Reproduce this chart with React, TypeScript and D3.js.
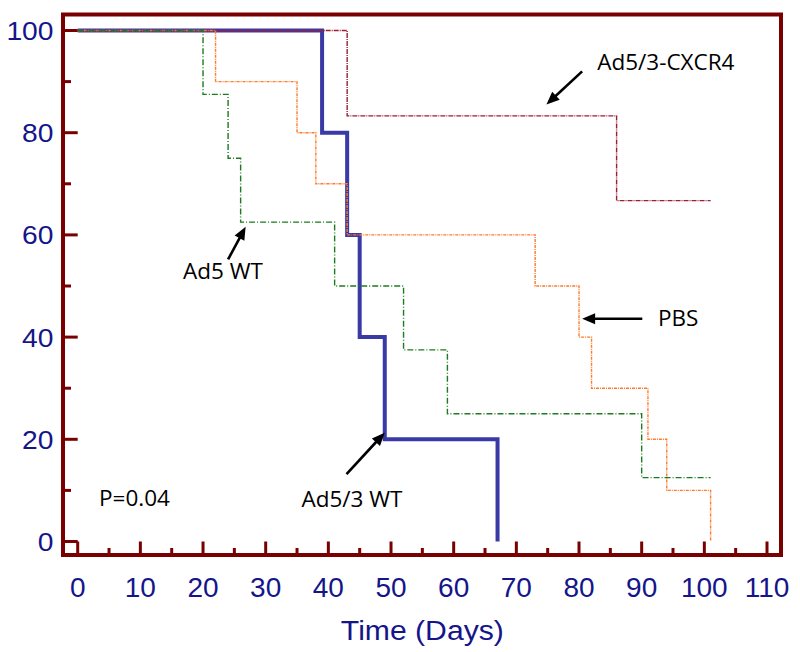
import React from "react";
import * as d3 from "d3";

// ---- Data ----
const xTicks = [0, 10, 20, 30, 40, 50, 60, 70, 80, 90, 100, 110];
const yTicks = [0, 20, 40, 60, 80, 100];

const ad53wtTimes = [0, 39, 43, 45, 49, 67];
const ad53wtSurv = [100, 80, 60, 40, 20, 0];

const cxcr4Times = [0, 43, 86, 101];
const cxcr4Surv = [100, 83.3, 66.7, 66.7];

const pbsTimes = [0, 22, 35, 38, 43, 73, 80, 82, 91, 94, 101];
const pbsSurv = [100, 90, 80, 70, 60, 50, 40, 30, 20, 10, 0];

const ad5wtTimes = [0, 20, 24, 26, 41, 52, 59, 90, 101];
const ad5wtSurv = [100, 87.5, 75, 62.5, 50, 37.5, 25, 12.5, 12.5];

const annotations = [
  { label: "Ad5/3-CXCR4", from: [80.5, 92.0], to: [74.8, 85.5], text: [82.9, 92.3] },
  { label: "PBS", from: [90.1, 43.6], to: [80.5, 43.6], text: [92.6, 42.1] },
  { label: "Ad5 WT", from: [24.0, 55.2], to: [26.8, 61.6], text: [16.8, 51.3] },
  { label: "Ad5/3 WT", from: [42.9, 13.2], to: [49.0, 21.3], text: [35.7, 6.8] },
];
const pLabel = "P=0.04";
const pPos = [3.4, 6.9];

const NAVY = "#15158a";
const FRAME = "#780000";

export default function App() {
  const x = d3.scaleLinear().domain([0, 110]).range([77.7, 767]);
  const y = d3.scaleLinear().domain([0, 100]).range([541.5, 30.5]);

  const frame = { left: 63, right: 781, top: 14.5, bottom: 555 };

  const mk = (t: number[], s: number[]) =>
    d3
      .line<number>()
      .x((_, i) => x(t[i]))
      .y((v) => y(v))
      .curve(d3.curveStepAfter)(s) as string;

  const xMinor = d3.range(5, 110, 10);
  const yMinor = d3.range(10, 100, 20);

  const arrowHead = (fx: number, fy: number, tx: number, ty: number) => {
    const ang = Math.atan2(ty - fy, tx - fx);
    const L = 13, W = 5.5;
    const bx = tx - L * Math.cos(ang), by = ty - L * Math.sin(ang);
    const px = -Math.sin(ang) * W, py = Math.cos(ang) * W;
    return `M${tx},${ty}L${bx + px},${by + py}L${bx - px},${by - py}Z`;
  };

  return (
    <div style={{ position: "absolute", left: 0, top: 0 }}>
      <svg width={800} height={652} style={{ display: "block", background: "#fff" }}>
        {/* series */}
        <path d={mk(ad53wtTimes, ad53wtSurv)} fill="none" stroke="#3a3aa6" strokeWidth={4} />
        <path d={mk(cxcr4Times, cxcr4Surv)} fill="none" stroke="#9e1c34" strokeWidth={1.4} strokeDasharray="5,1,1,1" />
        <path d={mk(pbsTimes, pbsSurv)} fill="none" stroke="#ff7a2a" strokeWidth={1.4} strokeDasharray="3,1,1,1" />
        <path d={mk(ad5wtTimes, ad5wtSurv)} fill="none" stroke="#1e7a1e" strokeWidth={1.4} strokeDasharray="6,2,1,2" />

        {/* frame */}
        <rect x={frame.left} y={frame.top} width={frame.right - frame.left} height={frame.bottom - frame.top}
          fill="none" stroke={FRAME} strokeWidth={4} />

        {/* y ticks */}
        {yTicks.map((t) => (
          <line key={"yt" + t} x1={frame.left} x2={x(0)} y1={y(t)} y2={y(t)} stroke={FRAME} strokeWidth={3} />
        ))}
        {yMinor.map((t) => (
          <line key={"ym" + t} x1={frame.left} x2={frame.left + 8} y1={y(t)} y2={y(t)} stroke={FRAME} strokeWidth={3} />
        ))}
        {/* x ticks */}
        {xTicks.map((t) => (
          <line key={"xt" + t} x1={x(t)} x2={x(t)} y1={frame.bottom} y2={y(0)} stroke={FRAME} strokeWidth={3} />
        ))}
        {xMinor.map((t) => (
          <line key={"xm" + t} x1={x(t)} x2={x(t)} y1={frame.bottom} y2={frame.bottom - 7} stroke={FRAME} strokeWidth={3} />
        ))}

        {/* tick labels */}
        {yTicks.map((t) => {
          const s = String(t);
          return (
            <text key={"yl" + t} x={53.5} y={y(t) + 9.5} textAnchor="end" fill={NAVY}
              fontFamily="'Liberation Sans', Arial, sans-serif" fontSize={25}
              textLength={s.length * 15.7} lengthAdjust="spacingAndGlyphs">{s}</text>
          );
        })}
        {xTicks.map((t) => (
          <text key={"xl" + t} x={x(t)} y={596.5} textAnchor="middle" fill={NAVY}
            fontFamily="'Liberation Sans', Arial, sans-serif" fontSize={28}>{t}</text>
        ))}
        <text x={(x(0) + x(110)) / 2} y={640} textAnchor="middle" fill={NAVY}
          fontFamily="'Liberation Sans', Arial, sans-serif" fontSize={27}
          textLength={163} lengthAdjust="spacingAndGlyphs">Time (Days)</text>

        {/* annotations */}
        {annotations.map((a) => {
          const fx = x(a.from[0]), fy = y(a.from[1]), tx = x(a.to[0]), ty = y(a.to[1]);
          const ang = Math.atan2(ty - fy, tx - fx);
          return (
            <g key={a.label}>
              <line x1={fx} y1={fy} x2={tx - 10 * Math.cos(ang)} y2={ty - 10 * Math.sin(ang)} stroke="#000" strokeWidth={2.6} />
              <path d={arrowHead(fx, fy, tx, ty)} fill="#000" />
              <text x={x(a.text[0])} y={y(a.text[1])} fill="#000" fontFamily="'Open Sans', sans-serif" fontSize={22.5}>{a.label}</text>
            </g>
          );
        })}
        <text x={x(pPos[0])} y={y(pPos[1])} fill="#000" fontFamily="'Open Sans', sans-serif" fontSize={22.5}>{pLabel}</text>
      </svg>
    </div>
  );
}
